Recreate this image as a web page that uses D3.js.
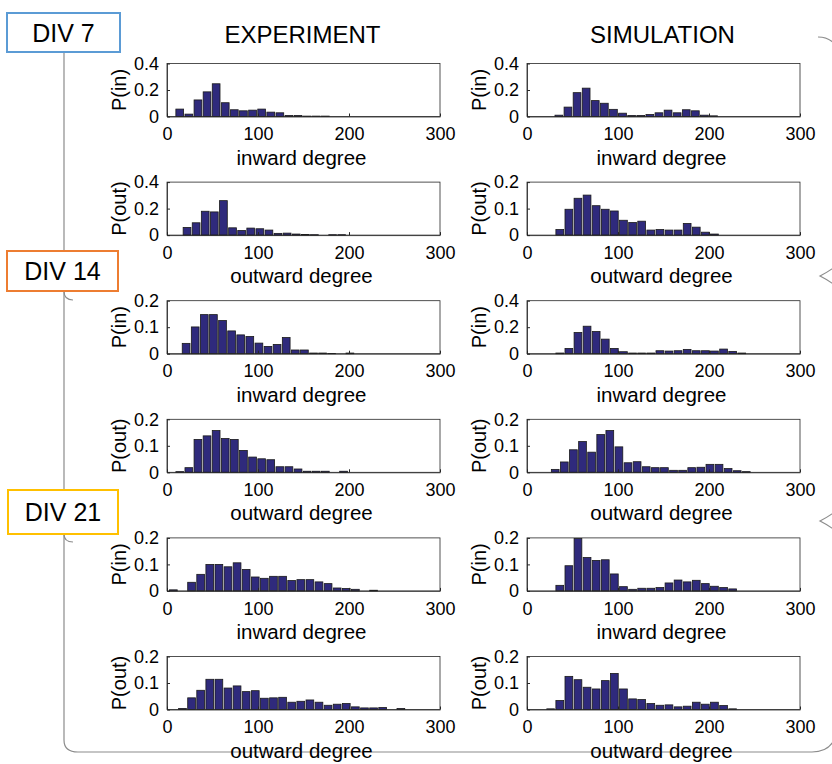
<!DOCTYPE html>
<html>
<head>
<meta charset="utf-8">
<script src="https://cdn.jsdelivr.net/npm/d3@7"></script>
<style>
  body { margin: 0; background: #fff; }
  svg { display: block; font-family: "Liberation Sans", Arial, sans-serif; }
</style>
</head>
<body>
<div id="chart"></div>
<script>
// column titles, group labels, axis ticks
const columnTitles = ["EXPERIMENT", "SIMULATION"];
const divLabels = ["DIV 7", "DIV 14", "DIV 21"];
const divColors = ["#5b9bd5", "#ed7d31", "#ffc000"];
const xTicks = [0, 100, 200, 300];
const binWidth = 10;

// histograms (probability per 10-degree bin)
const div7ExpIn = [0.056, 0.018, 0.125, 0.186, 0.247, 0.104, 0.051, 0.043, 0.048, 0.056, 0.033, 0.028, 0.008, 0.008, 0.003, 0.003, 0.003];
const div7SimIn = [0.01, 0.071, 0.18, 0.214, 0.12, 0.10, 0.054, 0.025, 0.008, 0.008, 0.015, 0.028, 0.048, 0.028, 0.051, 0.043, 0.01, 0.005];
const div7ExpOut = [0.058, 0.093, 0.18, 0.175, 0.26, 0.055, 0.035, 0.053, 0.048, 0.038, 0.013, 0.015, 0.008, 0.005, 0.003, 0, 0.003, 0.003];
const div7SimOut = [0.021, 0.0975, 0.139, 0.151, 0.111, 0.0975, 0.091, 0.056, 0.0475, 0.0525, 0.019, 0.021, 0.019, 0.019, 0.044, 0.030, 0.011, 0.004];
const div14ExpIn = [0.039, 0.101, 0.1475, 0.1475, 0.125, 0.086, 0.071, 0.065, 0.04, 0.0275, 0.035, 0.061, 0.014, 0.014, 0.0025, 0.0025, 0.001, 0, 0.0025];
const div14SimIn = [0.005, 0.04, 0.16, 0.2075, 0.1675, 0.11, 0.04, 0.015, 0.005, 0.005, 0.005, 0.0225, 0.02, 0.0225, 0.0325, 0.0225, 0.0225, 0.02, 0.035, 0.0175, 0.005];
const div14ExpOut = [0.0025, 0.0175, 0.124, 0.1375, 0.1575, 0.1275, 0.124, 0.0825, 0.0575, 0.051, 0.0475, 0.021, 0.021, 0.0125, 0.004, 0.004, 0.004, 0, 0.004];
const div14SimOut = [0.011, 0.039, 0.085, 0.116, 0.076, 0.1425, 0.1575, 0.096, 0.036, 0.04, 0.021, 0.0175, 0.0175, 0.0075, 0.0075, 0.0175, 0.019, 0.03, 0.03, 0.014, 0.006, 0.0025];
const div21ExpIn = [0.004, 0, 0.0325, 0.0625, 0.1, 0.1, 0.091, 0.106, 0.081, 0.0525, 0.0475, 0.055, 0.055, 0.039, 0.0425, 0.0425, 0.034, 0.0275, 0.011, 0.009, 0.006, 0, 0.0025];
const div21SimIn = [0.021, 0.095, 0.1975, 0.126, 0.115, 0.1175, 0.064, 0.016, 0.006, 0.01, 0.01, 0.0125, 0.03, 0.041, 0.034, 0.04, 0.0275, 0.0175, 0.0125, 0.0075];
const div21ExpOut = [0.004, 0.044, 0.0725, 0.114, 0.114, 0.081, 0.089, 0.0675, 0.071, 0.0425, 0.044, 0.046, 0.0275, 0.031, 0.036, 0.0275, 0.016, 0.02, 0.0225, 0.01, 0.006, 0.006, 0.0075, 0, 0.004];
const div21SimOut = [0.0025, 0.034, 0.125, 0.1125, 0.084, 0.0775, 0.109, 0.136, 0.0775, 0.04, 0.0375, 0.0225, 0.016, 0.0175, 0.01, 0.0125, 0.0275, 0.02, 0.0275, 0.015, 0.0025];

// centre of the first bar of each histogram (degree)
const firstBinCenters = [
  [14, 35], [22, 36],
  [21, 36], [14, 31],
  [7, 36], [17, 26]
];
const yMaxes = [
  [0.4, 0.4], [0.4, 0.2],
  [0.2, 0.4], [0.2, 0.2],
  [0.2, 0.2], [0.2, 0.2]
];
const rowKinds = ["in", "out", "in", "out", "in", "out"];
const seriesGrid = [
  [div7ExpIn, div7SimIn], [div7ExpOut, div7SimOut],
  [div14ExpIn, div14SimIn], [div14ExpOut, div14SimOut],
  [div21ExpIn, div21SimIn], [div21ExpOut, div21SimOut]
];

const width = 832, height = 764;
const barFill = "#2f2a7c";
const colLeft = [167, 527];
const plotW = 273, plotH = 53;
const rowTop0 = 63.5, rowStep = 118.6;

const svg = d3.select("#chart").append("svg")
  .attr("width", width)
  .attr("height", height);

// bracket lines joining the DIV boxes (the right-hand brace runs off the edge)
const bracket = svg.append("g")
  .attr("fill", "none")
  .attr("stroke", "#8c8c8c")
  .attr("stroke-width", 1.2);
bracket.append("path")
  .attr("d", "M64,52 L64,740 Q64,752 78,752 L812,752 Q828,752 834,740");
bracket.append("path").attr("d", "M64,291 Q64,300 73,300");
bracket.append("path").attr("d", "M64,534 Q64,542 73,542");
bracket.append("path").attr("d", "M818,37 Q830,37 836,46");
bracket.append("path").attr("d", "M836,266 Q828,272 820,276 Q828,280 836,286");
bracket.append("path").attr("d", "M836,511 Q828,517 820,521 Q828,525 836,531");

// DIV labels
const divBoxes = [
  {x: 7, y: 13, w: 113, h: 39},
  {x: 7, y: 251, w: 111, h: 40},
  {x: 8, y: 490, w: 110, h: 44}
];
divBoxes.forEach((b, i) => {
  svg.append("rect")
    .attr("x", b.x).attr("y", b.y)
    .attr("width", b.w).attr("height", b.h)
    .attr("fill", "#fff")
    .attr("stroke", divColors[i])
    .attr("stroke-width", 2);
  svg.append("text")
    .attr("x", b.x + b.w / 2)
    .attr("y", b.y + b.h / 2 + 9)
    .attr("text-anchor", "middle")
    .attr("font-size", 25)
    .text(divLabels[i]);
});

// column titles
columnTitles.forEach((t, c) => {
  svg.append("text")
    .attr("x", colLeft[c] + plotW / 2 - 1)
    .attr("y", 43)
    .attr("text-anchor", "middle")
    .attr("font-size", 24)
    .text(t);
});

const x = d3.scaleLinear().domain([0, 300]);

seriesGrid.forEach((row, r) => {
  row.forEach((values, c) => {
    const left = colLeft[c];
    const top = rowTop0 + r * rowStep;
    const yMax = yMaxes[r][c];

    const xs = x.copy().range([0, plotW]);
    const ys = d3.scaleLinear().domain([0, yMax]).range([plotH, 0]);

    const g = svg.append("g").attr("transform", "translate(" + left + "," + top + ")");

    const bars = values.map((v, i) => ({
      center: firstBinCenters[r][c] + i * binWidth,
      value: v
    }));
    const barW = xs(binWidth * 0.85) - xs(0);

    g.selectAll(".bar")
      .data(bars.filter(d => d.value > 0))
      .enter()
      .append("rect")
      .attr("class", "bar")
      .attr("x", d => xs(d.center) - barW / 2)
      .attr("y", d => ys(d.value))
      .attr("width", barW)
      .attr("height", d => plotH - ys(d.value))
      .attr("fill", barFill)
      .attr("stroke", "#1a1a1a")
      .attr("stroke-width", 0.8);

    // box
    g.append("rect")
      .attr("width", plotW).attr("height", plotH)
      .attr("fill", "none")
      .attr("stroke", "#262626")
      .attr("stroke-width", 0.8);

    const xAxis = d3.axisBottom(xs).tickValues(xTicks).tickSizeInner(-3).tickSizeOuter(0).tickPadding(11);
    const yAxis = d3.axisLeft(ys).tickValues([0, yMax / 2, yMax]).tickSizeInner(-3).tickSizeOuter(0)
      .tickPadding(8).tickFormat(d3.format("~g"));

    const gx = g.append("g").attr("transform", "translate(0," + plotH + ")").call(xAxis);
    const gy = g.append("g").call(yAxis);
    [gx, gy].forEach(a => {
      a.select(".domain").attr("stroke", "#262626").attr("stroke-width", 0.8);
      a.selectAll(".tick line").attr("stroke", "#262626");
      a.selectAll("text")
        .attr("font-size", 18)
        .attr("font-family", "Liberation Sans, Arial, sans-serif")
        .attr("fill", "#000");
    });

    // axis titles
    g.append("text")
      .attr("x", plotW / 2 - 2)
      .attr("y", plotH + 48)
      .attr("text-anchor", "middle")
      .attr("font-size", 20.5)
      .text(rowKinds[r] === "in" ? "inward degree" : "outward degree");

    g.append("text")
      .attr("transform", "translate(" + (-41) + "," + (plotH / 2) + ") rotate(-90)")
      .attr("text-anchor", "middle")
      .attr("font-size", 20)
      .text(rowKinds[r] === "in" ? "P(in)" : "P(out)");
  });
});
</script>
</body>
</html>
